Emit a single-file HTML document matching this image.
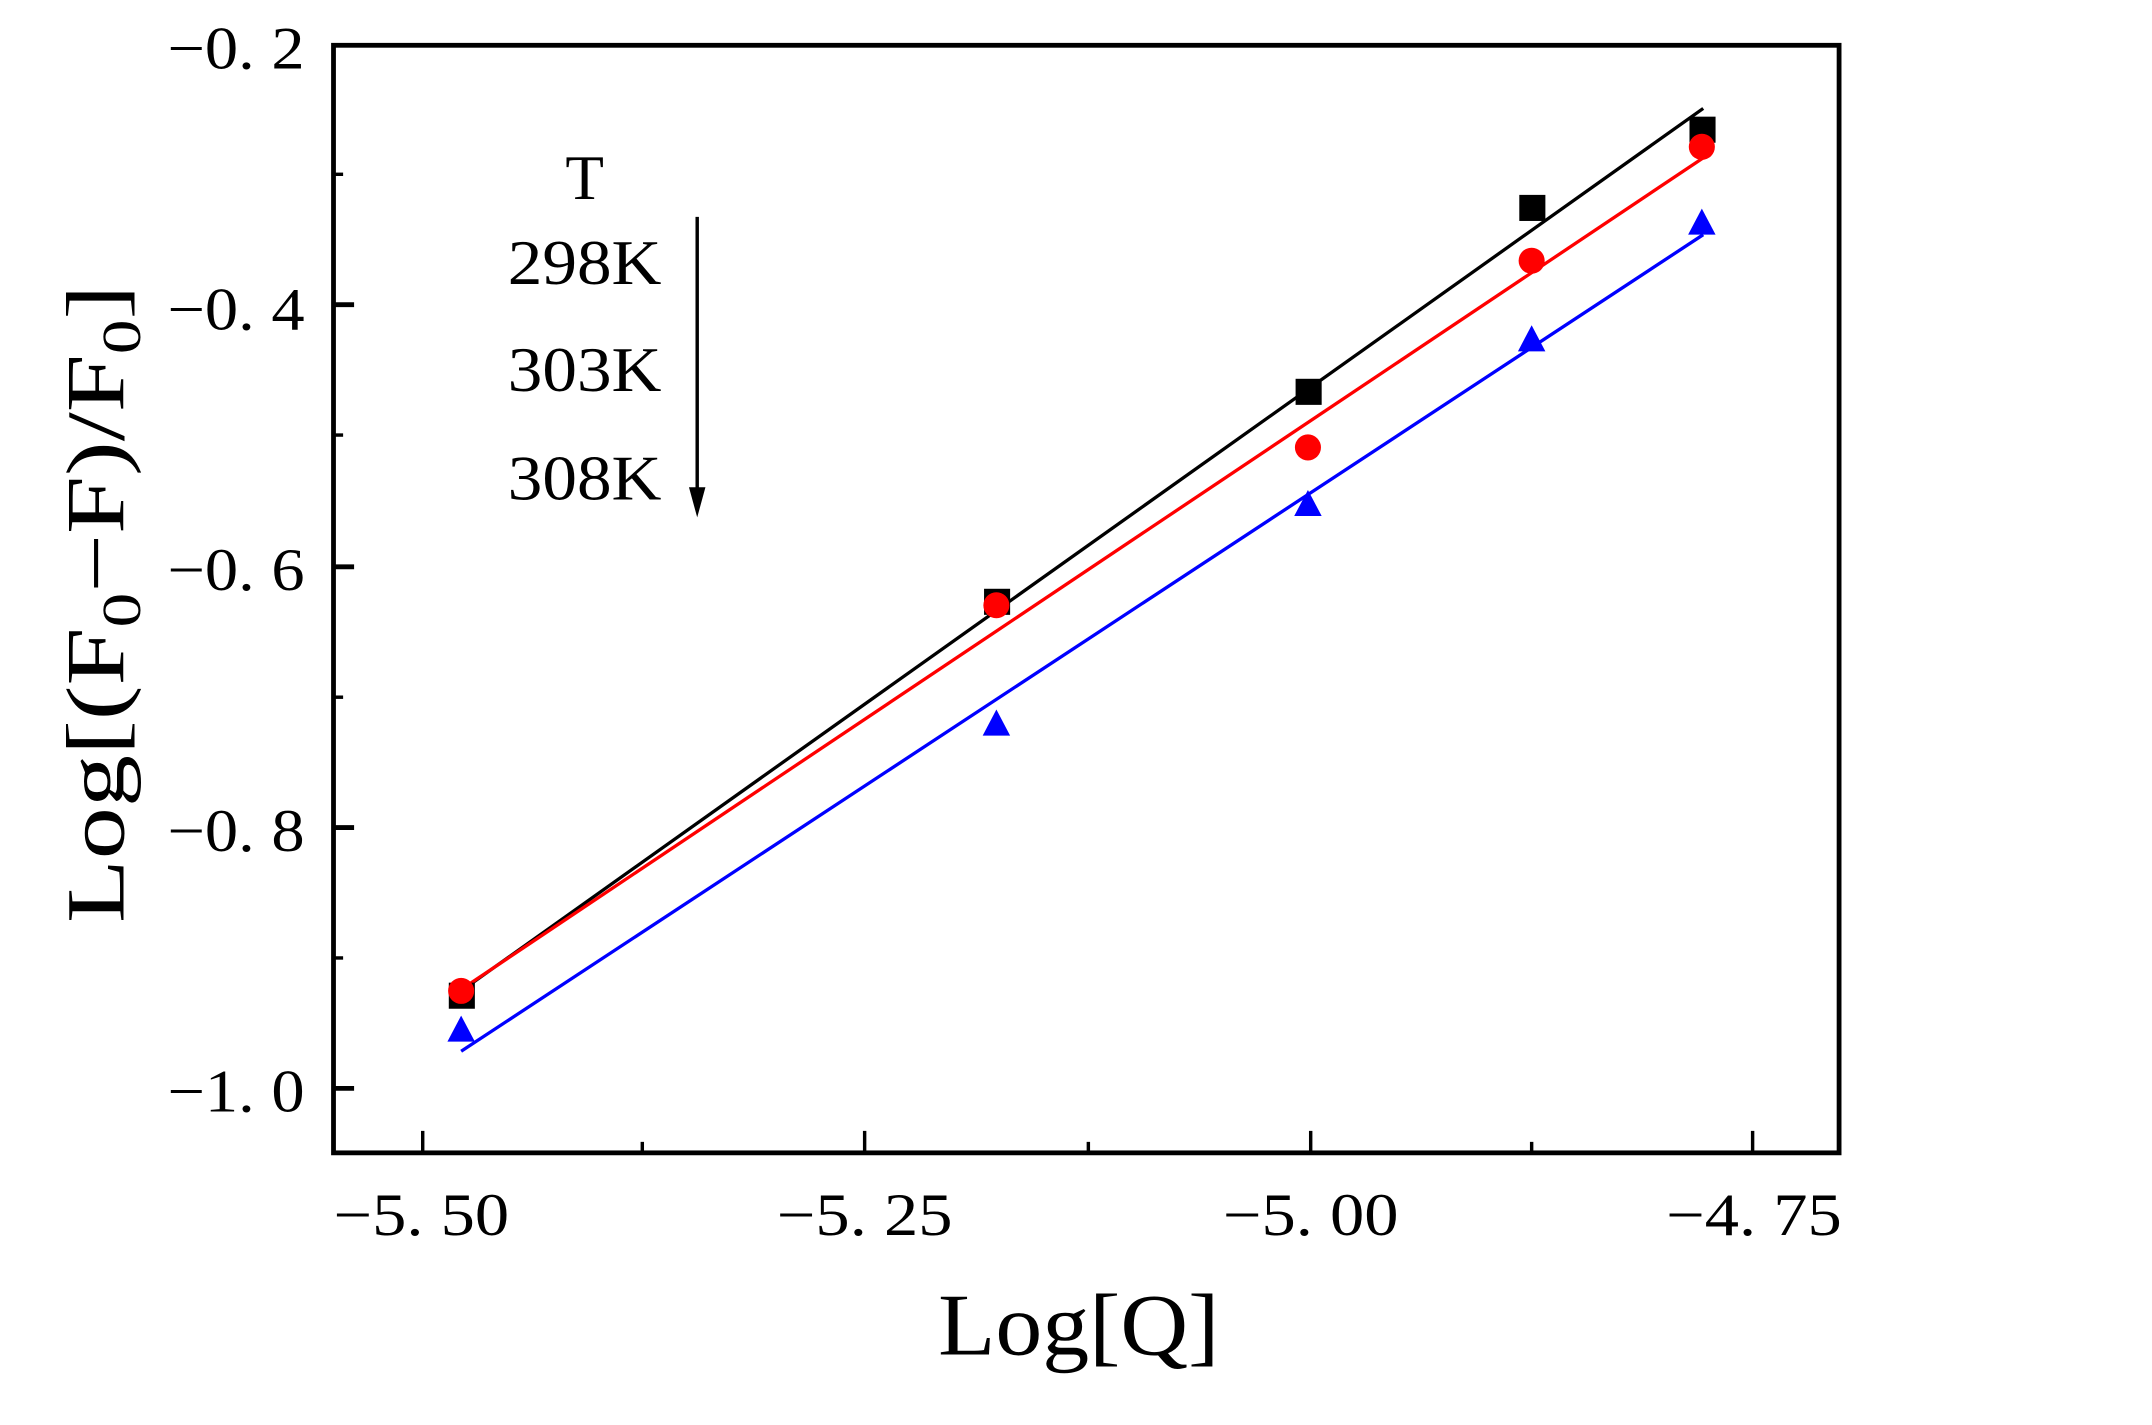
<!DOCTYPE html>
<html><head><meta charset="utf-8"><style>html,body{margin:0;padding:0;background:#fff;}svg{display:block}</style></head>
<body>
<svg width="2152" height="1425" viewBox="0 0 1568 1038.3" preserveAspectRatio="none" xmlns="http://www.w3.org/2000/svg" font-family="'Liberation Serif', serif">
<rect width="1568" height="1039" fill="#fff"/>
<g stroke="#000" stroke-width="2.5">
<line x1="243" y1="127" x2="250" y2="127"/><line x1="243" y1="317" x2="250" y2="317"/><line x1="243" y1="508" x2="250" y2="508"/><line x1="243" y1="698" x2="250" y2="698"/>
<line x1="243" y1="222" x2="258" y2="222" stroke-width="3.5"/><line x1="243" y1="413" x2="258" y2="413" stroke-width="3.5"/><line x1="243" y1="603" x2="258" y2="603" stroke-width="3.5"/><line x1="243" y1="793" x2="258" y2="793" stroke-width="3.5"/>
<line x1="308" y1="840" x2="308" y2="824"/><line x1="630" y1="840" x2="630" y2="824"/><line x1="955" y1="840" x2="955" y2="824"/><line x1="1277" y1="840" x2="1277" y2="824"/>
<line x1="468" y1="840" x2="468" y2="832"/><line x1="793" y1="840" x2="793" y2="832"/><line x1="1116" y1="840" x2="1116" y2="832"/>
</g>
<rect x="243" y="33" width="1097" height="807" fill="none" stroke="#000" stroke-width="3.5"/>
<g font-size="44" text-anchor="end">
<text x="222" y="50" textLength="100" lengthAdjust="spacingAndGlyphs">−0. 2</text>
<text x="222" y="240" textLength="100" lengthAdjust="spacingAndGlyphs">−0. 4</text>
<text x="222" y="430" textLength="100" lengthAdjust="spacingAndGlyphs">−0. 6</text>
<text x="222" y="620" textLength="100" lengthAdjust="spacingAndGlyphs">−0. 8</text>
<text x="222" y="810" textLength="100" lengthAdjust="spacingAndGlyphs">−1. 0</text>
</g>
<g font-size="44" text-anchor="middle">
<text x="307" y="900" textLength="128" lengthAdjust="spacingAndGlyphs">−5. 50</text>
<text x="630" y="900" textLength="128" lengthAdjust="spacingAndGlyphs">−5. 25</text>
<text x="955" y="900" textLength="128" lengthAdjust="spacingAndGlyphs">−5. 00</text>
<text x="1278" y="900" textLength="128" lengthAdjust="spacingAndGlyphs">−4. 75</text>
</g>
<text x="786" y="987" font-size="64" text-anchor="middle" textLength="205" lengthAdjust="spacingAndGlyphs">Log[Q]</text>
<text transform="translate(90,440) rotate(-90)" font-size="60" text-anchor="middle" textLength="465" lengthAdjust="spacingAndGlyphs">Log[(F<tspan font-size="40" dy="12">0</tspan><tspan dy="-12">−F)/F</tspan><tspan font-size="40" dy="12">0</tspan><tspan dy="-12">]</tspan></text>
<g font-size="46" text-anchor="middle">
<text x="426" y="145">T</text>
<text x="426" y="207" textLength="112" lengthAdjust="spacingAndGlyphs">298K</text>
<text x="426" y="285" textLength="112" lengthAdjust="spacingAndGlyphs">303K</text>
<text x="426" y="364" textLength="112" lengthAdjust="spacingAndGlyphs">308K</text>
</g>
<line x1="508" y1="158" x2="508" y2="360" stroke="#000" stroke-width="2.5"/>
<polygon points="502,355 514,355 508,377" fill="#000"/>
<line x1="336" y1="722" x2="1241" y2="79" stroke="#000" stroke-width="2.4"/>
<line x1="336" y1="721" x2="1241" y2="115" stroke="#f00" stroke-width="2.4"/>
<line x1="336" y1="766" x2="1241" y2="171" stroke="#00f" stroke-width="2.4"/>
<g fill="#000">
<rect x="327" y="716" width="19" height="19"/><rect x="717" y="429" width="19" height="19"/><rect x="944" y="276" width="19" height="19"/><rect x="1107" y="142" width="19" height="19"/><rect x="1231" y="85" width="19" height="19"/>
</g>
<g fill="#f00">
<circle cx="336" cy="722" r="9.5"/><circle cx="726" cy="441" r="9.5"/><circle cx="953" cy="326" r="9.5"/><circle cx="1116" cy="190" r="9.5"/><circle cx="1240" cy="107" r="9.5"/>
</g>
<g fill="#00f">
<polygon points="336,740 326,759 346,759"/><polygon points="726,517 716,536 736,536"/><polygon points="953,357 943,376 963,376"/><polygon points="1116,237 1106,256 1126,256"/><polygon points="1240,152 1230,171 1250,171"/>
</g>
</svg>
</body></html>
